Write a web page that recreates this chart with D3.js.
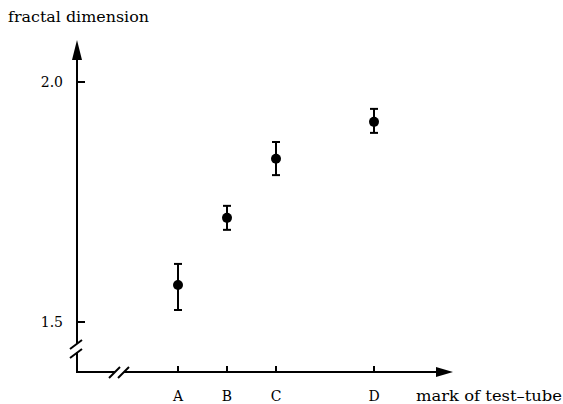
<!DOCTYPE html>
<html>
<head>
<meta charset="utf-8">
<script src="https://cdn.jsdelivr.net/npm/d3@7"></script>
<style>
  body { margin: 0; background: #fff; }
  text { font-family: "DejaVu Serif", "Liberation Serif", serif; fill: #000; }
</style>
</head>
<body>
<script>
// test-tube marks and their place along the x axis
var tubes = ["A", "B", "C", "D"];
var tubePos = [1, 2, 3, 5];
var dim = [1.577, 1.717, 1.840, 1.917];
var dimLow = [1.525, 1.692, 1.806, 1.894];
var dimHigh = [1.621, 1.742, 1.875, 1.944];
var yTicks = [1.5, 2.0];

var w = 563, h = 404;
var svg = d3.select("body").append("svg").attr("width", w).attr("height", h);

var x = d3.scaleLinear().domain([1, 5]).range([178, 374]);
var y = d3.scaleLinear().domain([1.5, 2.0]).range([322, 82]);

var ox = 77, oy = 372;
var ax = svg.append("g").attr("stroke", "#000").attr("stroke-width", 2).attr("fill", "none");

// y axis with break
ax.append("line").attr("x1", ox).attr("x2", ox).attr("y1", oy + 1).attr("y2", 352);
ax.append("line").attr("x1", ox).attr("x2", ox).attr("y1", 344).attr("y2", 56);
ax.append("line").attr("x1", ox - 7).attr("x2", ox + 5).attr("y1", 358).attr("y2", 349);
ax.append("line").attr("x1", ox - 7).attr("x2", ox + 5).attr("y1", 349).attr("y2", 340);
svg.append("path").attr("d", "M" + ox + ",40 L" + (ox - 5) + ",60 L" + (ox + 5) + ",60 Z").attr("fill", "#000");

// x axis with break
ax.append("line").attr("x1", ox - 1).attr("x2", 115).attr("y1", oy).attr("y2", oy);
ax.append("line").attr("x1", 124).attr("x2", 440).attr("y1", oy).attr("y2", oy);
ax.append("line").attr("x1", 109).attr("x2", 120).attr("y1", oy + 6).attr("y2", oy - 5);
ax.append("line").attr("x1", 118).attr("x2", 129).attr("y1", oy + 6).attr("y2", oy - 5);
svg.append("path").attr("d", "M453," + oy + " L436," + (oy - 5) + " L436," + (oy + 5) + " Z").attr("fill", "#000");

// ticks
ax.selectAll(".yt").data(yTicks).enter().append("line")
    .attr("x1", ox).attr("x2", ox + 8)
    .attr("y1", function(d) { return y(d); }).attr("y2", function(d) { return y(d); });
svg.selectAll(".yl").data(yTicks).enter().append("text")
    .attr("x", 63).attr("y", function(d) { return y(d) + 5; })
    .attr("text-anchor", "end").attr("font-size", 14)
    .text(function(d) { return d3.format(".1f")(d); });

ax.selectAll(".xt").data(tubePos).enter().append("line")
    .attr("x1", function(d) { return x(d); }).attr("x2", function(d) { return x(d); })
    .attr("y1", oy).attr("y2", oy - 6);
svg.selectAll(".xl").data(tubes).enter().append("text")
    .attr("x", function(d, i) { return x(tubePos[i]); }).attr("y", 401)
    .attr("text-anchor", "middle").attr("font-size", 14)
    .text(function(d) { return d; });

// axis titles
svg.append("text").attr("x", 8).attr("y", 22).attr("font-size", 14)
    .attr("textLength", 141).attr("lengthAdjust", "spacingAndGlyphs").text("fractal dimension");
svg.append("text").attr("x", 416).attr("y", 401).attr("font-size", 14)
    .attr("textLength", 146).attr("lengthAdjust", "spacingAndGlyphs").text("mark of test\u2013tube");

// error bars and points
var pts = svg.append("g");
tubes.forEach(function(t, i) {
  var cx = x(tubePos[i]);
  pts.append("line").attr("x1", cx).attr("x2", cx)
      .attr("y1", y(dimLow[i])).attr("y2", y(dimHigh[i]))
      .attr("stroke", "#000").attr("stroke-width", 2);
  [dimLow[i], dimHigh[i]].forEach(function(v) {
    pts.append("line").attr("x1", cx - 4).attr("x2", cx + 4)
        .attr("y1", y(v)).attr("y2", y(v))
        .attr("stroke", "#000").attr("stroke-width", 2);
  });
  pts.append("circle").attr("cx", cx).attr("cy", y(dim[i])).attr("r", 5).attr("fill", "#000");
});
</script>
</body>
</html>
